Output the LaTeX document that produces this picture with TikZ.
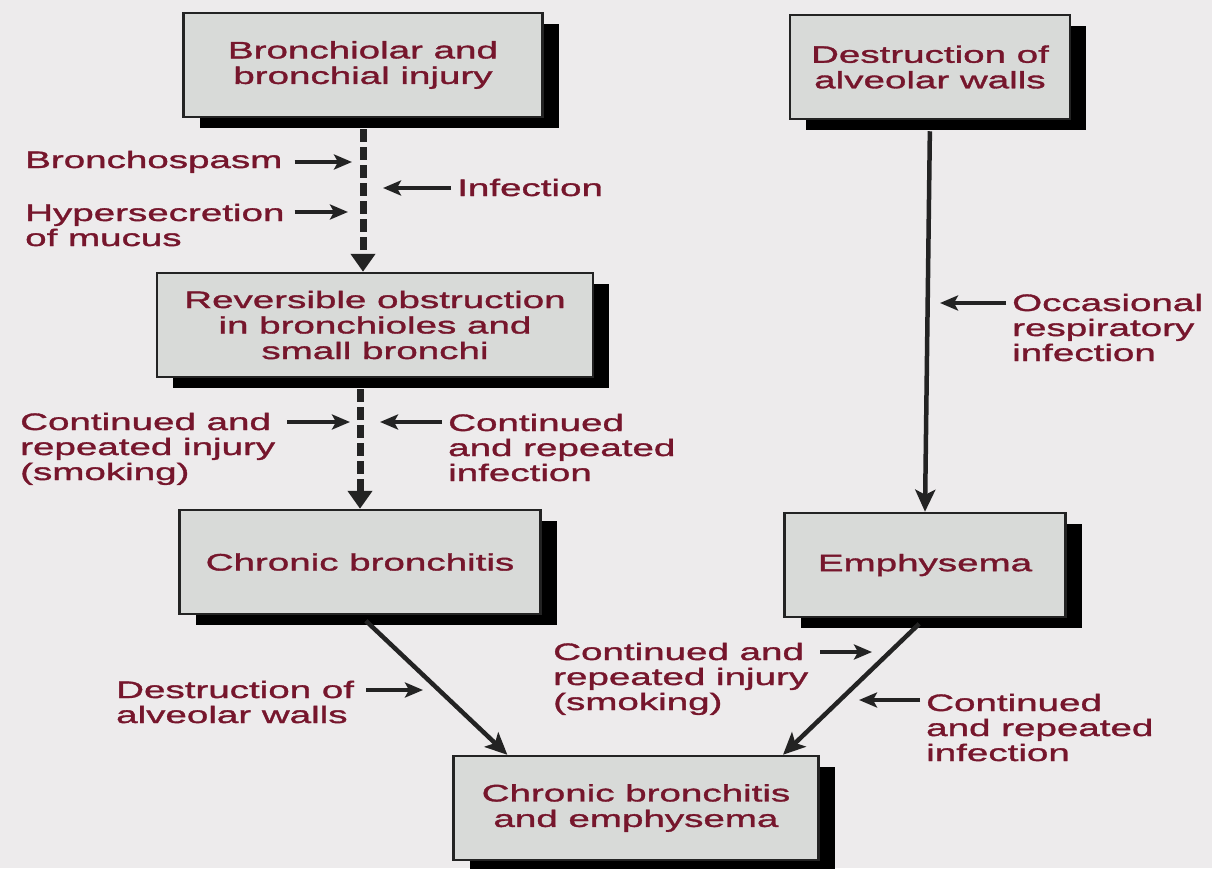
\documentclass[tikz,border=0pt]{standalone}
\usepackage{fontspec}
\setmainfont{Liberation Sans}[FakeStretch=1.62, FakeBold=1.4]
\usepackage{xcolor}
\usetikzlibrary{positioning, arrows.meta, calc, shadows}

\definecolor{paper}{RGB}{237,235,236}
\definecolor{boxgray}{RGB}{216,218,216}
\definecolor{inkred}{RGB}{118,22,44}
\definecolor{inkdark}{RGB}{35,35,35}

\begin{document}
\begin{tikzpicture}[
      x=1pt, y=-1pt,
      box/.style={rectangle, draw=inkdark, line width=2.5pt, fill=boxgray, text=inkred, align=center, minimum height=104pt, font=\fontsize{23.8}{25.5}\selectfont, drop shadow={shadow xshift=16pt, shadow yshift=-11pt, fill=black, opacity=1}},
      lbl/.style={text=inkred, align=left, inner sep=0pt, anchor=base west, font=\fontsize{23.8}{25}\selectfont},
      dasharrow/.style={draw=inkdark, line width=7pt, dash pattern=on 13pt off 5pt, -{Triangle[length=18pt,width=24pt]}},
      mainarrow/.style={draw=inkdark, line width=4.5pt, -{Stealth[length=22pt,width=20pt,inset=5pt]}},
      feed/.style={draw=inkdark, line width=3.5pt, -{Stealth[length=18pt,width=15pt,inset=4pt]}}
    ]
      \fill[paper] (0,0) rectangle (1212,868);
      \useasboundingbox (0,0) rectangle (1212,868);

      % Boxes
      \node[box, minimum width=359pt] (brinj) at (363,65) {Bronchiolar and\\bronchial injury};
      \node[box, minimum width=280pt] (destr) at (930,67) {Destruction of\\alveolar walls};
      \node[box, minimum width=436pt] (revobs) at (375,325) {Reversible obstruction\\in bronchioles and\\small bronchi};
      \node[box, minimum width=361pt] (chrbr) at (360,562) {Chronic bronchitis};
      \node[box, minimum width=281pt] (emph) at (925,565) {Emphysema};
      \node[box, minimum width=365pt] (both) at (636,808) {Chronic bronchitis\\and emphysema};

      % Main arrows
      \draw[dasharrow, shorten <=11pt] (brinj.south) -- (brinj.south |- revobs.north);
      \draw[dasharrow, shorten <=11pt] (chrbr.north |- revobs.south) -- (chrbr.north);
      \draw[mainarrow, shorten <=11pt] (destr.south) -- (emph.north);
      \draw[mainarrow, shorten <=8pt] (chrbr.south) -- ($(both.north west)!0.15!(both.north east)$);
      \draw[mainarrow, shorten <=8pt] (emph.south) -- ($(both.north west)!0.9!(both.north east)$);

      % Labels (base = last line)
      \node[lbl] (lbron) at (25,168) {Bronchospasm};
      \node[lbl] (linf) at (457,196) {Infection};
      \node[lbl] (lhyp) at (25,246) {Hypersecretion\\of mucus};
      \node[lbl] (locc) at (1012,361) {Occasional\\respiratory\\infection};
      \node[lbl] (linj) at (20,480) {Continued and\\repeated injury\\(smoking)};
      \node[lbl] (lrep) at (448,481) {Continued\\and repeated\\infection};
      \node[lbl] (ldes) at (116,723) {Destruction of\\alveolar walls};
      \node[lbl] (linjb) at (553,710) {Continued and\\repeated injury\\(smoking)};
      \node[lbl] (lrepb) at (926,761) {Continued\\and repeated\\infection};

      % Arrow tips
      \coordinate (tbron) at (352,162);
      \coordinate (tinf) at (383,188);
      \coordinate (thyp) at (348,212);
      \coordinate (tocc) at (940,303);
      \coordinate (tinj) at (350,422);
      \coordinate (trep) at (380,422);
      \coordinate (tdes) at (423,690);
      \coordinate (tinjb) at (872,652);
      \coordinate (trepb) at (859,700);

      % Side arrows
      \draw[feed] ([xshift=12pt]lbron.east |- tbron) -- (tbron);
      \draw[feed] ([xshift=-6pt]linf.west |- tinf) -- (tinf);
      \draw[feed] ([xshift=10pt]lhyp.east |- thyp) -- (thyp);
      \draw[feed] ([xshift=-6pt]locc.west |- tocc) -- (tocc);
      \draw[feed] ([xshift=12pt]linj.east |- tinj) -- (tinj);
      \draw[feed] ([xshift=-6pt]lrep.west |- trep) -- (trep);
      \draw[feed] ([xshift=12pt]ldes.east |- tdes) -- (tdes);
      \draw[feed] ([xshift=12pt]linjb.east |- tinjb) -- (tinjb);
      \draw[feed] ([xshift=-6pt]lrepb.west |- trepb) -- (trepb);
    \end{tikzpicture}
\end{document}
